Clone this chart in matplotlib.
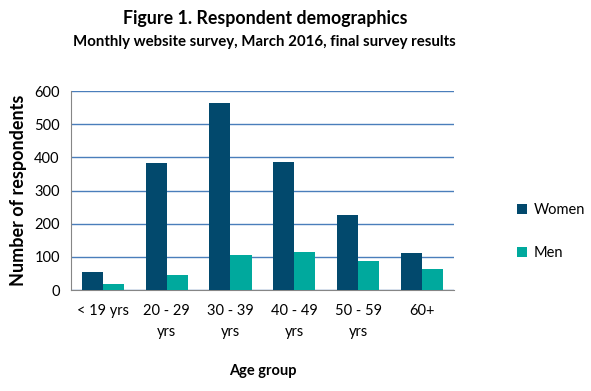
import matplotlib
matplotlib.use("Agg")
import matplotlib.pyplot as plt
import numpy as np

plt.rcParams['font.family'] = ['Lato', 'DejaVu Sans']

categories = ['< 19 yrs', '20 - 29\nyrs', '30 - 39\nyrs', '40 - 49\nyrs', '50 - 59\nyrs', '60+']
women = [54, 384, 565, 387, 226, 112]
men = [19, 46, 106, 115, 87, 63]

women_color = '#02496D'
men_color = '#00A99D'
grid_color = '#4A7EBB'

fig = plt.figure(figsize=(5.91, 3.91), dpi=100)
ax = fig.add_axes([0.120, 0.258, 0.648, 0.509])

x = np.arange(len(categories))
w = 0.33
ax.bar(x - w / 2, women, w, color=women_color, label='Women', zorder=3)
ax.bar(x + w / 2, men, w, color=men_color, label='Men', zorder=3)

ax.set_xlim(-0.5, len(categories) - 0.5)
ax.set_ylim(0, 600)
ax.set_yticks(range(0, 601, 100))
ax.yaxis.grid(True, color=grid_color, linewidth=1, zorder=0)
ax.set_axisbelow(True)

for side in ['top', 'right']:
    ax.spines[side].set_visible(False)
ax.spines['left'].set_color('#868686')
ax.spines['bottom'].set_color('#868686')
ax.tick_params(axis='both', length=0, labelsize=10.5, colors='black')
ax.tick_params(axis='y', pad=8)
ax.tick_params(axis='x', pad=10)
ax.set_xticks(x)
ax.set_xticklabels(categories, linespacing=1.6)

ax.set_ylabel('Number of respondents', fontsize=13, fontweight='bold', labelpad=5)
ax.set_xlabel('Age group', fontsize=10.5, fontweight='bold', labelpad=18)

fig.text(0.448, 0.952, 'Figure 1. Respondent demographics', ha='center', va='center',
         fontsize=12.8, fontweight='bold')
fig.text(0.448, 0.892, 'Monthly website survey, March 2016, final survey results', ha='center',
         va='center', fontsize=10.8, fontweight='bold')

leg = fig.legend(loc='center left', bbox_to_anchor=(0.853, 0.408), frameon=False,
                 fontsize=10.5, handlelength=0.7, handleheight=0.7, handletextpad=0.4,
                 labelspacing=2.0)

fig.savefig('out.png', dpi=100)
